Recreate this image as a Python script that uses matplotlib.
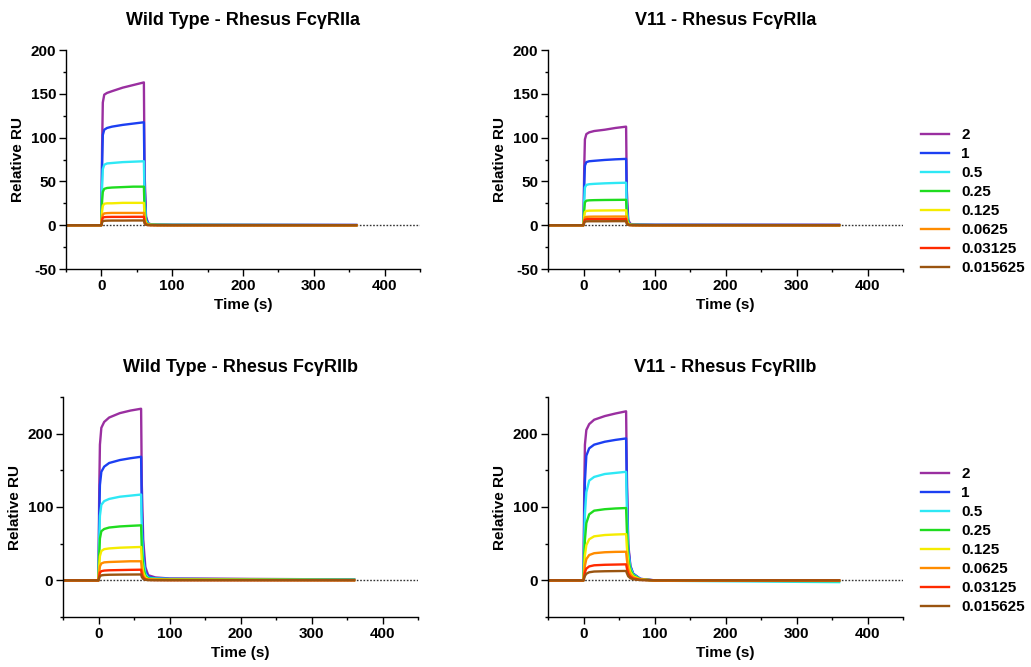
import matplotlib
matplotlib.use("Agg")
import matplotlib.pyplot as plt
from matplotlib.ticker import MultipleLocator, FixedLocator

plt.rcParams['font.family'] = ['Liberation Sans', 'DejaVu Sans']
plt.rcParams['font.weight'] = 'bold'
plt.rcParams['axes.unicode_minus'] = False

# time points (s) where the sensorgrams were read
t = [-50, 0, 1, 2, 4, 8, 15, 30, 45, 60, 61, 63, 66, 70, 80, 100, 360]

conc = ["2", "1", "0.5", "0.25", "0.125", "0.0625", "0.03125", "0.015625"]
colors = ["#9a2fa0", "#1c3ff2", "#2ee8f5", "#1fdc1f", "#f5ec00", "#ff8c00", "#ff2a00", "#9a5410"]

# Wild Type - Rhesus FcgRIIa
wt_2a = [
    [0, 0, 90, 140, 149, 151, 153, 157, 160, 163, 60, 10, 2, 1, 0.8, 0.5, 0.3],
    [0, 0, 70, 103, 109, 111, 112.5, 114.5, 116, 117.5, 45, 8, 2, 1, 0.6, 0.4, 0.2],
    [0, 0, 45, 64, 69, 70.5, 71, 72, 72.5, 73, 28, 5, 1.5, 0.8, 0.5, 0.3, 0.1],
    [0, 0, 28, 38, 41.5, 42.5, 43, 43.5, 44, 44, 17, 3, 1, 0.5, 0.3, 0.2, 0],
    [0, 0, 16, 22, 24.5, 25, 25, 25.5, 25.5, 25.5, 10, 2, 0.6, 0.3, 0.2, 0.1, 0],
    [0, 0, 9, 12, 13.5, 13.8, 14, 14, 14, 14, 5, 1, 0.3, 0.2, 0.1, 0, 0],
    [0, 0, 6, 8.5, 9.2, 9.4, 9.5, 9.5, 9.6, 9.6, 3.5, 0.8, 0.2, 0.1, 0, 0, 0],
    [0, 0, 3, 4.5, 5, 5.2, 5.3, 5.3, 5.4, 5.4, 2, 0.5, 0.2, 0.1, 0, 0, 0],
]

# V11 - Rhesus FcgRIIa
v11_2a = [
    [0, 0, 65, 98, 104, 106, 107.5, 109, 111, 112.5, 40, 6, 1.5, 1, 0.8, 0.6, 0.5],
    [0, 0, 45, 68, 72, 73, 73.5, 74.5, 75.2, 75.7, 27, 4, 1, 0.5, 0.4, 0.3, 0.2],
    [0, 0, 28, 43, 46, 46.8, 47.2, 47.8, 48.2, 48.5, 17, 3, 0.8, 0.4, 0.3, 0.2, 0.1],
    [0, 0, 17, 26, 28, 28.4, 28.6, 28.8, 28.9, 29, 10, 2, 0.5, 0.3, 0.2, 0.1, 0],
    [0, 0, 10, 15, 16.3, 16.6, 16.7, 16.8, 16.9, 17, 6, 1, 0.3, 0.2, 0.1, 0, 0],
    [0, 0, 6, 8.8, 9.5, 9.7, 9.8, 9.8, 9.9, 9.9, 3.5, 0.6, 0.2, 0.1, 0, 0, 0],
    [0, 0, 4, 6.2, 6.8, 7, 7, 7, 7.1, 7.1, 2.5, 0.5, 0.2, 0.1, 0, 0, 0],
    [0, 0, 2.5, 4, 4.4, 4.5, 4.5, 4.5, 4.6, 4.6, 1.6, 0.3, 0.1, 0, 0, 0, 0],
]

# Wild Type - Rhesus FcgRIIb
wt_2b = [
    [0, 0, 120, 185, 208, 216, 222, 228, 231.5, 234, 130, 55, 18, 7, 4, 2.5, 1.2],
    [0, 0, 85, 130, 148, 155, 160, 164, 166.5, 168.5, 95, 40, 13, 5, 3, 2, 1],
    [0, 0, 55, 88, 103, 108, 111, 114, 115.5, 117, 66, 28, 9, 3.5, 2.5, 1.8, 0.8],
    [0, 0, 35, 57, 67, 70, 72, 73.5, 74.3, 75, 42, 18, 6, 2.5, 1.8, 1.3, 0.6],
    [0, 0, 20, 33, 40, 42.5, 43.5, 44.5, 45, 45.5, 26, 11, 4, 1.6, 1.2, 0.9, 0.4],
    [0, 0, 11, 19, 23, 24.5, 25, 25.5, 26, 26, 15, 6, 2, 1, 0.7, 0.5, 0.3],
    [0, 0, 6, 10.5, 12.5, 13.3, 13.7, 14, 14.3, 14.5, 8, 3.5, 1.2, 0.6, 0.4, 0.3, 0.2],
    [0, 0, 3, 5.5, 6.8, 7.3, 7.6, 7.8, 7.9, 8, 4.5, 2, 0.7, 0.3, 0.2, 0.2, 0.1],
]

# V11 - Rhesus FcgRIIb
v11_2b = [
    [0, 0, 120, 185, 205, 213, 219, 224, 227.5, 230.5, 150, 50, 20, 9, 2, 0, -0.5],
    [0, 0, 80, 135, 170, 180, 185, 189, 191.5, 193.5, 128, 45, 19, 9, 2, 0, -1],
    [0, 0, 50, 90, 120, 136, 141, 145, 146.5, 148, 100, 38, 17, 8, 1.5, -0.5, -2.5],
    [0, 0, 30, 55, 78, 90, 95, 97, 98, 98.6, 70, 30, 14, 7, 1.5, -0.3, -1],
    [0, 0, 18, 34, 48, 56, 60, 61.8, 62.5, 63, 46, 22, 11, 5.5, 1.2, -0.2, -0.5],
    [0, 0, 10, 20, 29, 34.5, 37, 38.3, 38.8, 39, 29, 15, 8, 4, 1, 0, -0.3],
    [0, 0, 5.5, 11, 16, 19, 20.5, 21.2, 21.5, 21.8, 17, 9, 5, 2.5, 0.6, 0, 0],
    [0, 0, 3, 6, 9, 11, 12, 12.4, 12.6, 12.8, 10, 5.5, 3, 1.5, 0.4, 0, 0],
]

W, H = 1031, 667
fig = plt.figure(figsize=(W / 100, H / 100), dpi=100)


def make_ax(left, right, top, bottom):
    return fig.add_axes([left / W, 1 - bottom / H, (right - left) / W, (bottom - top) / H])


panels = [
    (make_ax(66, 420, 50, 269), wt_2a, "Wild Type - Rhesus Fc\u03b3RIIa", "a"),
    (make_ax(548, 903, 50, 269), v11_2a, "V11 - Rhesus Fc\u03b3RIIa", "a"),
    (make_ax(63, 418, 397, 617), wt_2b, "Wild Type - Rhesus Fc\u03b3RIIb", "b"),
    (make_ax(548, 903, 397, 617), v11_2b, "V11 - Rhesus Fc\u03b3RIIb", "b"),
]

for ax, data, title, kind in panels:
    ax.axhline(0, color="#333333", ls=(0, (1.2, 1.2)), lw=1.0, zorder=1)
    for vals, c, lab in zip(data, colors, conc):
        ax.plot(t, vals, color=c, lw=1.7, label=lab, zorder=2)
    ax.set_xlim(-50, 450)
    ax.xaxis.set_major_locator(FixedLocator([0, 100, 200, 300, 400]))
    ax.xaxis.set_minor_locator(FixedLocator([-50, 50, 150, 250, 350, 450]))
    if kind == "a":
        ax.set_ylim(-50, 200)
        ax.yaxis.set_major_locator(MultipleLocator(50))
        ax.yaxis.set_minor_locator(MultipleLocator(25))
    else:
        ax.set_ylim(-50, 250)
        ax.yaxis.set_major_locator(FixedLocator([0, 100, 200]))
        ax.yaxis.set_minor_locator(FixedLocator([-50, 50, 150, 250]))
    for s in ["top", "right"]:
        ax.spines[s].set_visible(False)
    for s in ["left", "bottom"]:
        ax.spines[s].set_linewidth(1.0)
    ax.tick_params(which="major", length=5, width=1.0, labelsize=11, pad=2)
    ax.tick_params(which="minor", length=2.5, width=1.0)
    for lbl in ax.get_xticklabels() + ax.get_yticklabels():
        lbl.set_fontweight("bold")
    ax.set_xlabel("Time (s)", fontsize=11, fontweight="bold", labelpad=4)
    ax.set_ylabel("Relative RU", fontsize=11, fontweight="bold", labelpad=4)
    ax.set_title(title, fontsize=13, fontweight="bold", pad=18)

for ax, top_px in ((panels[1][0], 128), (panels[3][0], 467)):
    handles, labels = ax.get_legend_handles_labels()
    fig.legend(handles, labels, loc="upper left",
               bbox_to_anchor=(921 / W, 1 - top_px / H),
               frameon=False, handlelength=1.85,
               handletextpad=0.8, labelspacing=0.33,
               borderaxespad=0, borderpad=0,
               prop={"weight": "bold", "size": 11})

fig.savefig("out.png", dpi=100)
